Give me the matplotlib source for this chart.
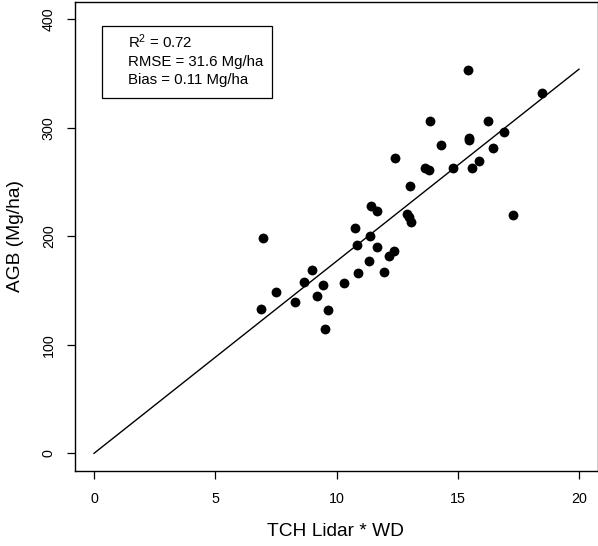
import matplotlib
matplotlib.use("Agg")
import matplotlib.pyplot as plt
from matplotlib.patches import Rectangle

plt.rcParams['font.family'] = ['Liberation Sans', 'DejaVu Sans']
plt.rcParams['mathtext.default'] = 'regular'

# Data
tch_wd = [15.44, 18.46, 13.87, 16.23, 16.91, 15.45, 15.45, 14.32, 16.45, 12.43,
          13.65, 13.83, 14.80, 15.57, 15.89, 13.02, 17.29, 11.42, 11.65, 12.89,
          12.99, 13.06, 10.78, 6.97, 11.39, 10.85, 11.66, 12.37, 12.18, 11.33,
          10.87, 11.95, 10.32, 8.98, 8.66, 9.44, 7.49, 8.29, 9.21, 6.87,
          9.64, 9.53]
agb = [353, 332, 306, 306, 296, 291, 289, 284, 281, 272,
       263, 261, 263, 263, 269, 246, 220, 228, 223, 221,
       218, 213, 208, 198, 200, 192, 190, 186, 182, 177,
       166, 167, 157, 169, 158, 155, 149, 139, 145, 133,
       132, 115]
fit_x = [0, 20]
fit_slope = 17.7
x_ticks = [0, 5, 10, 15, 20]
y_ticks = [0, 100, 200, 300, 400]
stats_lines = ["R$^2$ = 0.72", "RMSE = 31.6 Mg/ha", "Bias = 0.11 Mg/ha"]

W, H = 598, 546
fig = plt.figure(figsize=(W / 100, H / 100), dpi=100)
l, r, t, b = 74.6, 598.4, 1.9, 470.7
ax = fig.add_axes([l / W, (H - b) / H, (r - l) / W, (b - t) / H])

ax.scatter(tch_wd, agb, s=50, color='black', zorder=3, linewidths=0)
ax.plot(fit_x, [fit_slope * v for v in fit_x], color='black', lw=1.0)

ax.set_xlim(-0.8, 20.8)
ax.set_ylim(-16, 416)
ax.set_xticks(x_ticks)
ax.set_yticks(y_ticks)
ax.set_yticklabels([str(v) for v in y_ticks], rotation=90, va='center')
ax.tick_params(axis='both', direction='out', length=5.5, width=0.9, labelsize=10.3)
ax.tick_params(axis='x', pad=10)
ax.tick_params(axis='y', pad=8)
for s in ax.spines.values():
    s.set_linewidth(1.0)

fig.text(335 / W, 1 - 531 / H, "TCH Lidar * WD", ha='center', va='center', fontsize=13.8)
fig.text(16 / W, 1 - 236 / H, "AGB (Mg/ha)", ha='center', va='center', rotation=90, fontsize=13.8)

# stats box
bx0, by0, bx1, by1 = 102, 26, 272, 97.5
fig.patches.append(Rectangle((bx0 / W, 1 - by1 / H), (bx1 - bx0) / W, (by1 - by0) / H,
                             transform=fig.transFigure, fill=False, lw=0.9, ec='black'))
baselines = [48.3, 65.8, 84.3]
for line, yb in zip(stats_lines, baselines):
    fig.text(128.3 / W, 1 - yb / H, line, ha='left', va='baseline', fontsize=10.8)

fig.savefig("out.png", dpi=100)
